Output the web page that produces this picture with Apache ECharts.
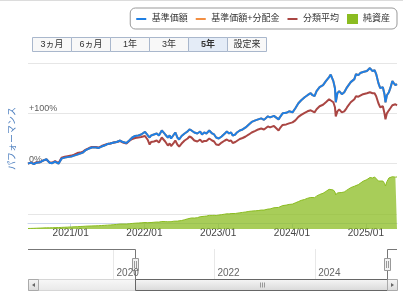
<!DOCTYPE html>
<html><head><meta charset="utf-8">
<script src="https://cdn.jsdelivr.net/npm/echarts@6/dist/echarts.min.js"></script>
<style>html,body{margin:0;padding:0;background:#fff}#c{width:403px;height:296px}</style>
</head><body><div id="c"></div>
<script>
// ---- data ----
const dates = [
 '2020-06-04','2020-06-18','2020-07-03','2020-07-17','2020-08-03','2020-08-17','2020-09-03','2020-09-18','2020-10-02','2020-10-16','2020-11-02','2020-11-17','2020-12-03','2020-12-17',
 '2021-01-04','2021-01-18','2021-02-03','2021-02-17','2021-03-03','2021-03-17','2021-04-02','2021-04-16','2021-05-06','2021-05-18','2021-06-03','2021-06-17','2021-07-02','2021-07-16','2021-08-03','2021-08-17','2021-09-03','2021-09-17','2021-10-04','2021-10-18','2021-11-02','2021-11-16','2021-12-02','2021-12-16',
 '2022-01-04','2022-01-18','2022-01-27','2022-02-03','2022-02-17','2022-03-03','2022-03-14','2022-03-28','2022-04-04','2022-04-14','2022-04-27','2022-05-06','2022-05-13','2022-05-27','2022-06-03','2022-06-13','2022-06-22','2022-07-04','2022-07-19','2022-08-03','2022-08-12','2022-08-22','2022-09-05','2022-09-20','2022-10-04','2022-10-13','2022-10-24','2022-11-04','2022-11-18','2022-12-02','2022-12-12','2022-12-22',
 '2023-01-04','2023-01-18','2023-02-03','2023-02-13','2023-02-24','2023-03-06','2023-03-14','2023-03-27','2023-04-04','2023-04-18','2023-05-02','2023-05-17','2023-06-02','2023-06-16','2023-07-04','2023-07-18','2023-08-02','2023-08-16','2023-09-04','2023-09-15','2023-10-04','2023-10-13','2023-10-27','2023-11-02','2023-11-16','2023-12-04','2023-12-18',
 '2024-01-04','2024-01-18','2024-02-02','2024-02-16','2024-03-04','2024-03-18','2024-04-03','2024-04-12','2024-04-22','2024-05-02','2024-05-17','2024-06-03','2024-06-17','2024-07-03','2024-07-11','2024-07-24','2024-08-01','2024-08-05','2024-08-13','2024-08-22','2024-09-04','2024-09-16','2024-09-27','2024-10-03','2024-10-18','2024-11-05','2024-11-13','2024-11-25','2024-12-04','2024-12-18',
 '2025-01-06','2025-01-13','2025-01-21','2025-02-03','2025-02-13','2025-02-21','2025-03-04','2025-03-13','2025-03-26','2025-04-03','2025-04-08','2025-04-15','2025-04-25','2025-05-02','2025-05-12','2025-05-19','2025-05-27','2025-06-04'
];
// 基準価額 performance (%)
const nav = [
 0,2,-1,2,3,6,9,2,1,4,0,10,12,13,
 14,16,18,20,22,27,30,32,32,31,34,36,39,40,42,43,46,43,41,46,52,55,56,58,
 63,56,52,56,58,60,56,66,64,58,52,56,50,58,62,52,48,55,60,64,68,66,62,60,64,58,62,60,66,60,58,52,
 50,54,60,64,60,62,56,58,62,66,68,72,78,83,86,88,90,87,94,92,95,93,88,92,100,101,104,
 102,110,120,126,132,136,140,136,134,144,152,156,164,172,177,164,150,122,140,144,138,142,150,152,162,168,178,176,180,182,
 184,186,190,184,186,178,160,150,152,138,122,136,142,150,164,160,156,158
];
// 基準価額+分配金 (no distributions: identical to 基準価額)
const navWithDist = nav.slice();
// 分類平均 performance (%)
const avg = [
 0,2,0,3,3,6,8,3,2,5,1,12,14,15,
 16,18,21,22,24,28,31,33,33,32,35,37,39,40,42,43,45,42,40,45,49,51,52,53,
 55,47,38,43,44,46,42,52,50,44,36,40,35,42,46,38,34,40,46,50,54,52,46,44,48,43,45,45,50,46,44,38,
 37,42,46,48,45,46,41,43,46,49,51,54,58,62,65,68,70,68,74,72,75,73,66,70,77,78,80,
 82,86,93,97,101,104,106,103,102,108,114,117,122,128,131,122,112,94,104,108,102,104,110,114,122,128,134,133,136,138,
 140,142,142,140,140,134,120,112,114,100,88,100,106,110,116,114,118,116
];
// 純資産 (億円)
const assets = [
 60,70,80,95,110,125,140,140,150,165,170,195,210,225,
 245,265,280,300,315,340,355,370,380,395,420,440,465,485,520,550,600,600,600,630,670,700,720,740,
 780,760,750,780,810,840,830,900,910,890,870,900,880,940,990,950,940,1020,1120,1220,1320,1330,1320,1360,1480,1470,1530,1560,1640,1640,1650,1630,
 1680,1730,1790,1830,1820,1860,1830,1870,1900,1950,2000,2050,2120,2160,2190,2220,2280,2280,2400,2420,2560,2560,2600,2700,2820,2880,2960,
 3000,3150,3300,3450,3560,3700,3800,3770,3780,3960,4160,4300,4520,4780,4940,4700,4450,4100,4350,4460,4400,4460,4650,4750,4980,5150,5300,5350,5550,5750,
 5950,6150,6200,6150,6270,6150,5780,5700,5780,5500,5180,5700,6150,6100,6300,6270,6250,6270
];
const seriesNames = ['基準価額','基準価額+分配金','分類平均','純資産'];
const rangeButtons = ['3ヵ月','6ヵ月','1年','3年','5年','設定来'];
const selectedRange = '5年';
const viewStart = '2020-06-04', viewEnd = '2025-06-04', inception = '2018-07-03';
const mainTicks = ['2021-01-01','2022-01-01','2023-01-01','2024-01-01','2025-01-01'];
const navigatorTicks = ['2020-01-01','2022-01-01','2024-01-01'];
const perfLabels = {100: '+100%', 0: '0%'};

// ---- helpers ----
const ts = s => { const p = s.split('-').map(Number); return new Date(p[0], p[1]-1, p[2]).getTime(); };
const pair = arr => dates.map((d, i) => [ts(d), arr[i]]);
const FONT = "'Liberation Sans', 'Noto Sans CJK JP', sans-serif";
const LINE_ICON = 'path://M0,0h0.05v0.05h-0.05z M0,4.5h11v2h-11z M0,10.95h0.05v0.05h-0.05z';

const chart = echarts.init(document.getElementById('c'), null, {renderer: 'canvas'});
chart.setOption({
  animation: false,
  textStyle: {fontFamily: FONT},
  legend: {
    right: 6, top: 8, selectedMode: false,
    data: [
      {name: seriesNames[0], icon: LINE_ICON},
      {name: seriesNames[1], icon: LINE_ICON},
      {name: seriesNames[2], icon: LINE_ICON},
      {name: seriesNames[3], icon: 'rect'}
    ],
    itemWidth: 11, itemHeight: 10, itemGap: 8,
    padding: [6, 7, 5, 6],
    borderColor: '#999', borderWidth: 1, borderRadius: 5,
    textStyle: {fontSize: 9, color: '#333', fontFamily: FONT}
  },
  grid: [
    {left: 28, right: 6, top: 63, height: 151},
    {left: 28, right: 6, top: 63, height: 166},
    {left: 38, right: 16, top: 249, height: 30}
  ],
  xAxis: [
    {gridIndex: 0, type: 'value', min: ts(viewStart), max: ts(viewEnd), show: false, splitLine: {show: false}},
    {gridIndex: 1, type: 'value', min: ts(viewStart), max: ts(viewEnd), offset: -6,
      axisLine: {show: true, lineStyle: {color: '#ccd6eb'}},
      axisTick: {show: true, length: 5, lineStyle: {color: '#ccd6eb'}, customValues: mainTicks.map(ts)},
      axisLabel: {customValues: mainTicks.map(ts), color: '#444', fontSize: 10, margin: 5,
        formatter: v => { const d = new Date(v); return d.getFullYear() + '/' + String(d.getMonth()+1).padStart(2, '0'); }},
      splitLine: {show: false}},
    {gridIndex: 2, type: 'value', min: ts(inception), max: ts(viewEnd),
      axisLine: {show: false},
      axisTick: {show: false, customValues: navigatorTicks.map(ts)},
      axisLabel: {inside: true, customValues: navigatorTicks.map(ts), color: '#666', fontSize: 10, margin: 1,
        align: 'left', padding: [0, 0, 0, 3], formatter: v => String(new Date(v).getFullYear())},
      splitLine: {show: true, lineStyle: {color: '#e8e8e8'}}}
  ],
  yAxis: [
    {gridIndex: 0, type: 'value', min: -100, max: 200, interval: 100,
      name: 'パフォーマンス', nameLocation: 'middle', nameGap: 11,
      nameTextStyle: {color: '#4d7fbf', fontSize: 9},
      axisLine: {show: false}, axisTick: {show: false},
      axisLabel: {inside: true, margin: 1, color: '#606060', fontSize: 9, verticalAlign: 'bottom',
        formatter: v => perfLabels[v] || ''},
      splitLine: {lineStyle: {color: '#e6e6e6'}}},
    {gridIndex: 1, type: 'value', min: 0, max: 20000, show: false, splitLine: {show: false}},
    {gridIndex: 2, type: 'value', min: 0, max: 1, show: false, splitLine: {show: false}}
  ],
  series: [
    {name: seriesNames[3], type: 'line', xAxisIndex: 1, yAxisIndex: 1, data: pair(assets),
      symbol: 'none', lineStyle: {color: '#8bbc21', width: 1}, itemStyle: {color: '#8bbc21'},
      areaStyle: {color: '#8bbc21', opacity: 0.75}},
    {name: seriesNames[1], type: 'line', xAxisIndex: 0, yAxisIndex: 0, data: pair(navWithDist),
      symbol: 'none', lineStyle: {color: '#f28f43', width: 2}, itemStyle: {color: '#f28f43'}},
    {name: seriesNames[2], type: 'line', xAxisIndex: 0, yAxisIndex: 0, data: pair(avg),
      symbol: 'none', lineStyle: {color: '#aa4643', width: 2}, itemStyle: {color: '#aa4643'}},
    {name: seriesNames[0], type: 'line', xAxisIndex: 0, yAxisIndex: 0, data: pair(nav),
      symbol: 'none', lineStyle: {color: '#1f7fe3', width: 2}, itemStyle: {color: '#1f7fe3'}},
    {name: 'navigator', type: 'line', xAxisIndex: 2, yAxisIndex: 2, data: [], symbol: 'none'}
  ]
});

// ---- decorations: range buttons, navigator outline, handles, scrollbar ----
const lx = Math.round(chart.convertToPixel({xAxisIndex: 2}, ts(viewStart))) + 0.5;
const rx = Math.round(chart.convertToPixel({xAxisIndex: 2}, ts(viewEnd))) + 0.5;
const els = [];
els.push({type: 'line', shape: {x1: 0, y1: 0.5, x2: 403, y2: 0.5}, style: {stroke: '#dcdcdc', lineWidth: 1}});
rangeButtons.forEach((t, i) => {
  const x = 32.5 + i * 39, sel = t === selectedRange;
  els.push({type: 'rect', shape: {x: x, y: 37.5, width: 39, height: 14},
    style: {fill: sel ? '#e4ecf7' : '#f8f8f8', stroke: '#a9b7cc', lineWidth: 1}});
  els.push({type: 'text', x: x + 19.5, y: 44.5,
    style: {text: t, fill: '#333', font: (sel ? 'bold ' : '') + '9px ' + FONT, align: 'center', verticalAlign: 'middle'}});
});
const sbY = 279.5, sbH = 11;
const grad = (a, b) => new echarts.graphic.LinearGradient(0, 0, 0, 1, [{offset: 0, color: a}, {offset: 1, color: b}]);
els.push({type: 'rect', shape: {x: 28.5, y: sbY, width: 368, height: sbH}, style: {fill: grad('#f8f8f8', '#e8e8e8'), stroke: '#d6d6d6'}});
els.push({type: 'rect', shape: {x: lx, y: sbY, width: rx - lx, height: sbH}, style: {fill: grad('#f6f6f6', '#d8d8d8'), stroke: '#666'}});
const cx = Math.round((lx + rx) / 2) + 0.5;
[-2, 0, 2].forEach(d => els.push({type: 'line', shape: {x1: cx + d, y1: sbY + 3, x2: cx + d, y2: sbY + 8}, style: {stroke: '#999', lineWidth: 1}}));
els.push({type: 'rect', shape: {x: 28.5, y: sbY, width: 10, height: sbH}, style: {fill: grad('#f6f6f6', '#dadada'), stroke: '#aaa'}});
els.push({type: 'polygon', shape: {points: [[32, sbY + 5.5], [35, sbY + 3.5], [35, sbY + 7.5]]}, style: {fill: '#666'}});
els.push({type: 'rect', shape: {x: rx, y: sbY, width: 10, height: sbH}, style: {fill: grad('#f6f6f6', '#dadada'), stroke: '#aaa'}});
els.push({type: 'polygon', shape: {points: [[rx + 6.5, sbY + 5.5], [rx + 3.5, sbY + 3.5], [rx + 3.5, sbY + 7.5]]}, style: {fill: '#666'}});
els.push({type: 'polyline', shape: {points: [[28, 249.5], [lx, 249.5], [lx, sbY]]}, style: {stroke: '#777', lineWidth: 1, fill: null}});
els.push({type: 'polyline', shape: {points: [[rx, sbY], [rx, 249.5], [397, 249.5]]}, style: {stroke: '#777', lineWidth: 1, fill: null}});
[lx, rx].forEach(h => {
  els.push({type: 'rect', shape: {x: h - 3, y: 258.5, width: 6, height: 12}, style: {fill: '#f2f2f2', stroke: '#999'}});
  els.push({type: 'line', shape: {x1: h - 1, y1: 261, x2: h - 1, y2: 268}, style: {stroke: '#999'}});
  els.push({type: 'line', shape: {x1: h + 1, y1: 261, x2: h + 1, y2: 268}, style: {stroke: '#999'}});
});
chart.setOption({graphic: {elements: els}});
</script>
</body></html>
